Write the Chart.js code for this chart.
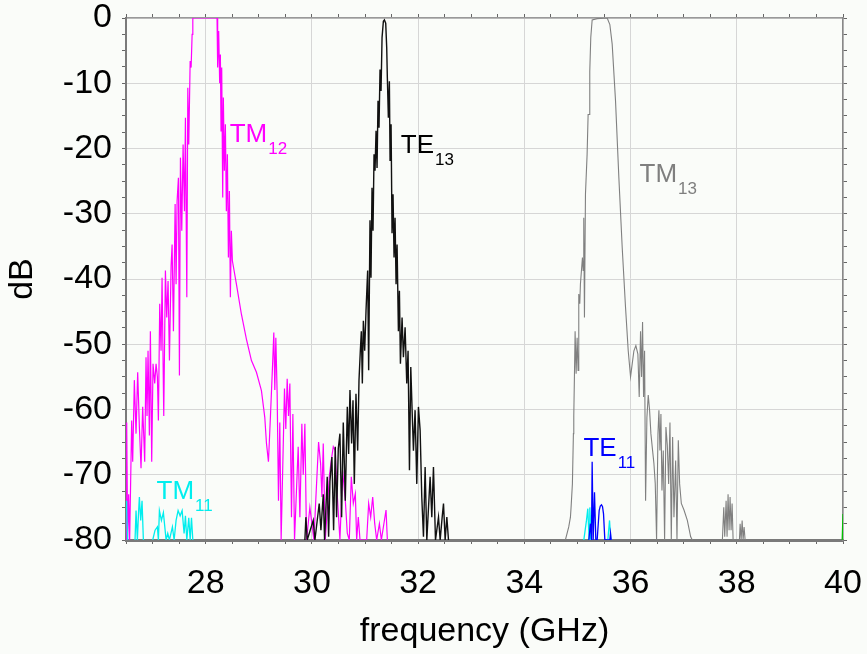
<!DOCTYPE html>
<html>
<head>
<meta charset="utf-8">
<script src="https://cdn.jsdelivr.net/npm/chart.js@4.4.0/dist/chart.umd.min.js"></script>
<style>
  html, body { margin: 0; padding: 0; background: #fafcf9; }
  canvas { display: block; }
</style>
</head>
<body>
<canvas id="chart" width="867" height="654"></canvas>
<script>
// TM12 (magenta)
const tm12Freq = [26.500, 26.513, 26.531, 26.550, 26.569, 26.607, 26.626, 26.657, 26.689, 26.720, 26.752, 26.783, 26.814, 26.852, 26.877, 26.896, 26.915, 26.940, 26.959, 26.984, 27.009, 27.041, 27.066, 27.091, 27.110, 27.135, 27.160, 27.179, 27.211, 27.242, 27.267, 27.292, 27.318, 27.349, 27.368, 27.393, 27.425, 27.443, 27.462, 27.487, 27.506, 27.525, 27.550, 27.575, 27.601, 27.619, 27.645, 27.664, 27.682, 27.708, 27.726, 27.745, 27.758,
  28.214, 28.226, 28.245, 28.264, 28.277, 28.289, 28.302, 28.321, 28.333, 28.352, 28.371, 28.390, 28.409, 28.428, 28.447, 28.465, 28.484, 28.503, 28.579, 28.673, 28.767, 28.862, 28.956, 29.050, 29.113, 29.145, 29.182, 29.220, 29.258, 29.283, 29.302, 29.321, 29.346, 29.371, 29.396, 29.421, 29.459, 29.484, 29.509, 29.535, 29.560,
  29.585, 29.616, 29.642, 29.673, 29.742, 29.774, 29.811, 29.837, 29.868, 29.899, 29.962, 30.038, 30.076, 30.126, 30.164, 30.189, 30.214, 30.252, 30.289, 30.327, 30.365, 30.403, 30.440, 30.465, 30.528, 30.579, 30.629, 30.667, 30.704, 30.742, 30.780, 30.818, 30.843, 30.874, 30.906, 31.031, 31.069, 31.107, 31.145, 31.183, 31.220, 31.271, 31.308, 31.396, 31.421];
const tm12Db = [-80, -62, -80, -73, -80, -61.7, -68, -55.5, -63.7, -54.3, -62.7, -69, -59.6, -68, -52, -61, -51, -64, -48, -68, -53, -56, -53, -55, -61.7, -43.8, -51, -39.8, -61, -38.7, -45.9, -40.3, -52.5, -38, -34.7, -48, -28.5, -40.8, -28, -24.5, -54.8, -21.4, -32.6, -19.4, -29.6, -15.3, -42.8, -10.7, -19.4, -6.6, -7.6, -2.5, 0,
  0, -7.6, -2, -10, -5.6, -17.3, -7.6, -27.5, -12.2, -23.4, -16.3, -29.6, -20.9, -36.7, -26.5, -42.8, -32.6, -37.2, -40.8, -45.4, -49.2, -52.5, -54.3, -57.1, -61.2, -65.2, -68, -61, -53.5, -48.2, -57, -49, -57.6, -74, -62, -80, -66, -56.8, -63, -55.3, -61,
  -56, -76.5, -60.7, -80, -65.7, -76.5, -62.2, -70, -62.2, -80, -75, -80, -73.4, -65, -68.3, -73.4, -65.2, -80, -75.4, -70.3, -67.8, -65.7, -66.3, -71.4, -80, -69.3, -73.9, -79, -80, -70.3, -74.4, -72.9, -80, -76.5, -80, -80, -74.4, -76.5, -73.4, -77.5, -80, -77.5, -80, -75.4, -80];

// TE13 (black)
const te13Freq = [29.868, 29.887, 29.912, 30.025, 30.057, 30.138, 30.170, 30.214, 30.239, 30.289, 30.315, 30.340, 30.377, 30.409, 30.440, 30.465, 30.497, 30.528, 30.560, 30.591, 30.629, 30.667, 30.692, 30.717, 30.748, 30.774, 30.799, 30.830, 30.862, 30.887, 30.912, 30.931, 30.950, 30.969, 30.994, 31.019, 31.050, 31.069, 31.094, 31.113, 31.132, 31.151, 31.170, 31.189, 31.208, 31.227, 31.245, 31.264, 31.283, 31.302, 31.321, 31.346, 31.365, 31.390, 31.409, 31.421, 31.440, 31.459, 31.472, 31.491, 31.509, 31.528, 31.547, 31.566, 31.585, 31.604, 31.629, 31.648, 31.667, 31.698, 31.723, 31.755, 31.786, 31.811, 31.837, 31.862, 31.887, 31.912, 31.943, 31.975, 32.006, 32.038, 32.069, 32.101, 32.132, 32.164, 32.226, 32.258, 32.289, 32.327, 32.384, 32.415, 32.453, 32.478, 32.509, 32.541, 32.572];
const te13Db = [-80, -76.5, -80, -77, -80, -74.4, -78.5, -73, -80, -70.3, -79.5, -71, -67.3, -78.5, -65.7, -76.5, -66, -63.7, -76.5, -62, -74, -59.6, -66.8, -57, -65.2, -58.6, -71.4, -57.6, -66.3, -55.5, -51, -48, -56, -46.4, -51, -44.9, -38.7, -54, -31, -39.8, -26, -32.6, -20.9, -23.4, -17.3, -23, -12.7, -16.8, -7.9, -11.2, -3, -0.5, -0.3, -0.8, -4.6, -9.2, -15.3, -9.7, -21.9, -16.3, -33, -27, -36.7, -30.6, -40.8, -34.7, -48, -41.8, -53, -45.9, -52, -47.4, -56, -51, -69.3, -53.5, -60.1, -66.3, -60.1, -71.4, -59.6, -63.2, -73.4, -79.5, -68.8, -80, -70.3, -76.5, -68.8, -80, -76.5, -80, -76.5, -74.4, -80, -76.5, -80];

// TM13 (grey)
const tm13Freq = [34.700, 34.773, 34.836, 34.868, 34.880, 34.905, 34.924, 34.931, 34.943, 34.956, 34.975, 34.994, 35.012, 35.025, 35.044, 35.056, 35.094, 35.107, 35.119, 35.132, 35.151, 35.182, 35.201, 35.220, 35.232, 35.251, 35.277, 35.371, 35.560, 35.610, 35.654, 35.717, 35.780, 35.843, 35.905, 35.956, 36.000, 36.031, 36.063, 36.100, 36.138, 36.163, 36.188, 36.207, 36.226, 36.245, 36.264, 36.283, 36.308, 36.333, 36.358, 36.383, 36.415, 36.440, 36.465, 36.490, 36.516, 36.534, 36.553, 36.572, 36.591, 36.616, 36.641, 36.666, 36.692, 36.717, 36.742, 36.767, 36.792, 36.817, 36.849, 36.874, 36.899, 36.924, 36.956, 37.006, 37.069, 37.132, 37.163, 37.400,
  37.729, 37.755, 37.773, 37.799, 37.817, 37.836, 37.855, 37.874, 37.893, 37.912, 37.931, 38.050, 38.063, 38.082, 38.101, 38.119, 38.138, 38.157];
const tm13Db = [-80, -80, -78, -76.5, -75, -71.4, -63.7, -61, -55, -48, -54.5, -49, -54, -42.3, -43.8, -40.8, -36.7, -38.7, -30.6, -45.9, -27, -20.9, -14.8, -14.8, -8.2, -3, -0.3, -0.1, 0, -1, -4, -12.7, -24.5, -35.2, -44.3, -51, -55, -53, -51, -50.2, -51.5, -58.1, -48, -55, -46.6, -58.1, -51, -74, -61.2, -57.8, -60.1, -63.7, -66.3, -68.3, -71.4, -80, -63.7, -60.1, -66.3, -60.7, -72.4, -66.3, -80, -62.7, -65.5, -71.4, -62, -80, -64.2, -76.5, -67.8, -80, -64.7, -71.4, -74.4, -75.4, -77, -79.5, -80, null,
  -80, -75, -79.5, -74, -79.5, -73, -78.5, -73.4, -78.5, -74.4, -80, -80, -77.5, -80, -77, -80, -78, -80];

// TE11 (blue)
const te11Freq = [35.214, 35.245, 35.264, 35.277, 35.296, 35.321, 35.346, 35.371, 35.409, 35.430, 35.453, 35.472, 35.491, 35.516, 35.610, 35.623, 35.635];
const te11Db = [-80, -77.5, -80, -68, -80, -72.7, -80, -80, -75.5, -74.8, -74.6, -74.9, -76, -80, -80, -79, -80];

// TM11 (cyan)
const tm11Freq = [26.505, 26.513, 26.530, 26.600,
  26.670, 26.689, 26.714, 26.735, 26.752, 26.777, 26.802, 26.827, 26.900,
  27.003, 27.047, 27.091, 27.110, 27.129, 27.167, 27.204, 27.255, 27.286, 27.318, 27.374, 27.406, 27.443, 27.481, 27.519, 27.557, 27.594, 27.619, 27.645, 27.682, 27.708, 27.733, 27.758, 30.000,
  35.120, 35.170, 35.195, 35.220, 35.233, 35.258, 35.400,
  35.572, 35.604, 35.629];
const tm11Db = [-74, -75.5, -80, null,
  -80, -75.5, -80, -76, -73.4, -77, -74, -80, null,
  -80, -78.5, -78, -80, -75.5, -77, -75.8, -80, -79, -80, -78, -80, -77, -75.5, -76.3, -75.5, -79, -76.3, -80, -76.6, -80, -76.6, -80, null,
  -80, -77, -75.2, -80, -75, -80, null,
  -80, -77, -80];

// small trace at the right edge (green)
const edgeFreq = [39.985, 40.0];
const edgeDb = [-80, -76];

// mode labels
const modeNames = ['TM', 'TE', 'TM', 'TE', 'TM'];
const modeSubs = ['12', '13', '13', '11', '11'];
const modeFreq = [28.453, 31.674, 36.170, 35.113, 27.075];
const modeDb = [-18.97, -20.65, -25.09, -67.15, -73.73];
const modeColors = ['#ff00ff', '#000000', '#7f7f7f', '#0000ff', '#00eeee'];

function pts(xs, ys) {
  return xs.map((x, i) => ({ x: x, y: ys[i] }));
}

const FONT = '"Liberation Sans", Arial, Helvetica, sans-serif';

const bgPlugin = {
  id: 'bg',
  beforeDraw(chart) {
    const c = chart.ctx;
    c.save();
    c.fillStyle = '#fafcf9';
    c.fillRect(0, 0, chart.width, chart.height);
    c.restore();
  }
};

const modeLabels = {
  id: 'modeLabels',
  afterDatasetsDraw(chart) {
    const c = chart.ctx;
    const xs = chart.scales.x, ys = chart.scales.y;
    c.save();
    c.textBaseline = 'alphabetic';
    c.textAlign = 'left';
    modeNames.forEach((name, i) => {
      const px = xs.getPixelForValue(modeFreq[i]);
      const py = ys.getPixelForValue(modeDb[i]);
      c.fillStyle = modeColors[i];
      c.font = '26px ' + FONT;
      c.fillText(name, px, py);
      const w = c.measureText(name).width;
      c.font = '17px ' + FONT;
      c.fillText(modeSubs[i], px + w + 1, py + 12);
    });
    c.restore();
  }
};

const major = (v, step) => Math.abs(v / step - Math.round(v / step)) < 1e-6;

new Chart(document.getElementById('chart'), {
  type: 'line',
  data: {
    datasets: [
      { data: pts(te11Freq, te11Db), borderColor: '#0000ff', borderWidth: 1.3, order: 1 },
      { data: pts(tm11Freq, tm11Db), borderColor: '#00eeee', borderWidth: 1.3, order: 2 },
      { data: pts(edgeFreq, edgeDb), borderColor: '#00c000', borderWidth: 1.3, order: 3 },
      { data: pts(te13Freq, te13Db), borderColor: '#111111', borderWidth: 1.4, order: 4 },
      { data: pts(tm12Freq, tm12Db), borderColor: '#ff00ff', borderWidth: 1.2, order: 5 },
      { data: pts(tm13Freq, tm13Db), borderColor: '#808080', borderWidth: 1.1, order: 6 }
    ]
  },
  options: {
    responsive: false,
    animation: false,
    devicePixelRatio: 1,
    elements: { point: { radius: 0 }, line: { tension: 0 } },
    plugins: { legend: { display: false }, tooltip: { enabled: false } },
    layout: { padding: 0 },
    scales: {
      x: {
        type: 'linear', position: 'bottom', min: 26.5, max: 40,
        ticks: {
          stepSize: 0.5, autoSkip: false, maxRotation: 0, color: '#000', padding: 23,
          font: { size: 34, family: FONT, lineHeight: 1 },
          callback: v => major(v, 2) ? String(v) : ''
        },
        grid: {
          color: ctx => (ctx.tick && major(ctx.tick.value, 2)) ? '#d6d6d6' : 'rgba(0,0,0,0)',
          tickColor: '#666', tickLength: 4, lineWidth: 1
        },
        border: { color: '#7a7a7a', width: 3 },
        title: { display: true, text: 'frequency (GHz)', color: '#000', font: { size: 34, family: FONT, lineHeight: 1.2 }, padding: { top: 0, bottom: 2 } },
        afterFit: s => { s.height = 114; s.paddingLeft = 0; s.paddingRight = 0; }
      },
      x2: {
        type: 'linear', position: 'top', min: 26.5, max: 40,
        ticks: { stepSize: 0.5, display: false },
        grid: { drawOnChartArea: false, tickColor: '#666', tickLength: 4 },
        border: { color: '#999', width: 1.5 },
        afterFit: s => { s.height = 18; s.paddingLeft = 0; s.paddingRight = 0; }
      },
      y: {
        type: 'linear', position: 'left', min: -80, max: 0,
        ticks: {
          stepSize: 2.5, autoSkip: false, color: '#000', padding: 10,
          font: { size: 34, family: FONT, lineHeight: 1 },
          callback: v => major(v, 10) ? String(v) : ''
        },
        grid: {
          color: ctx => (ctx.tick && major(ctx.tick.value, 10)) ? '#d6d6d6' : 'rgba(0,0,0,0)',
          tickColor: '#666', tickLength: 4, lineWidth: 1
        },
        border: { color: '#7a7a7a', width: 2 },
        title: { display: true, text: 'dB', color: '#000', font: { size: 34, family: FONT, lineHeight: 1.2 }, padding: { top: 2, bottom: 0 } },
        afterFit: s => { s.width = 126; s.paddingTop = 0; s.paddingBottom = 0; }
      },
      y2: {
        type: 'linear', position: 'right', min: -80, max: 0,
        ticks: { stepSize: 2.5, display: false },
        grid: { drawOnChartArea: false, tickColor: '#666', tickLength: 4 },
        border: { color: '#888', width: 1.5 },
        afterFit: s => { s.width = 24; s.paddingTop = 0; s.paddingBottom = 0; }
      }
    }
  },
  plugins: [bgPlugin, modeLabels]
});
</script>
</body>
</html>
